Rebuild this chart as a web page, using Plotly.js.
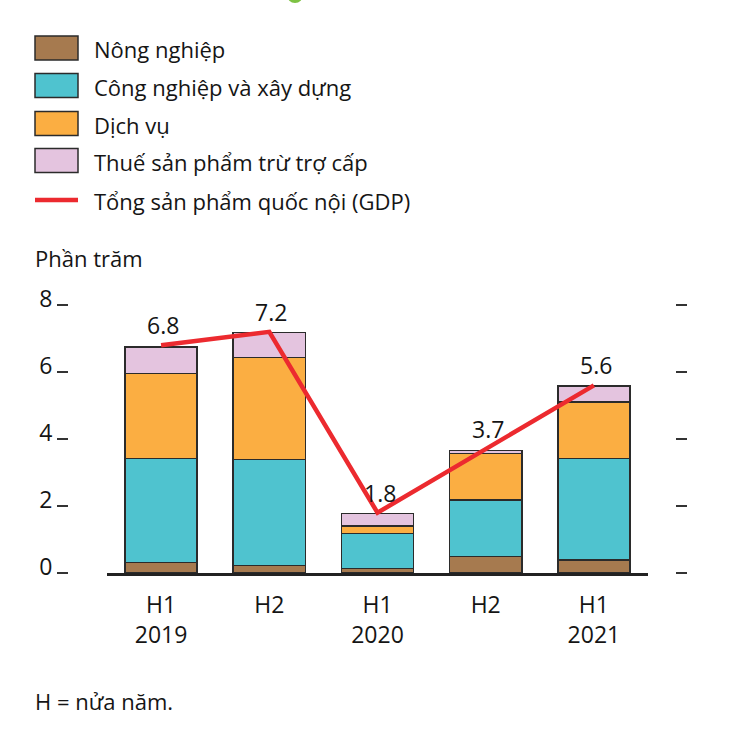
<!DOCTYPE html>
<html>
<head>
<meta charset="utf-8">
<script src="https://cdn.plot.ly/plotly-3.0.1.min.js"></script>
<style>html,body{margin:0;padding:0;background:#fff;}</style>
</head>
<body>
<div id="chart" style="width:736px;height:730px;"></div>
<script>
// ---- data ----
const periods = ['H1<br>2019', 'H2', 'H1<br>2020', 'H2', 'H1<br>2021'];
const seriesNames = ['Nông nghiệp', 'Công nghiệp và xây dựng', 'Dịch vụ', 'Thuế sản phẩm trừ trợ cấp'];
const agriculture = [0.31, 0.22, 0.13, 0.49, 0.39];
const industry = [3.11, 3.17, 1.05, 1.69, 3.03];
const services = [2.54, 3.05, 0.22, 1.39, 1.68];
const taxes = [0.78, 0.74, 0.38, 0.09, 0.48];
const gdp = [6.8, 7.2, 1.8, 3.7, 5.6];
const gdpName = 'Tổng sản phẩm quốc nội (GDP)';
const yTicks = [0, 2, 4, 6, 8];

// ---- styles ----
const colors = ['#A67A4F', '#4FC3CF', '#FBAE42', '#E4C4DF'];
const red = '#EC2A2F';
const ink = '#151515';
const font = 'Open Sans, Noto Sans, sans-serif';

const W = 736, H = 730;
const L = 68, R = 50, T = 305, B = 157;
const PW = W - L - R, PH = H - T - B;
const px = p => (p - L) / PW;
const py = p => (T + PH - p) / PH;

const xIdx = periods.map((_, i) => i);
const stacks = [agriculture, industry, services, taxes];

const traces = stacks.map((vals, k) => ({
  type: 'bar',
  x: xIdx,
  y: vals,
  name: seriesNames[k],
  marker: {color: colors[k], line: {color: '#2b2b2b', width: 1.5}},
  hoverinfo: 'skip',
  showlegend: false
}));

traces.push({
  type: 'scatter',
  mode: 'lines',
  x: xIdx,
  y: gdp,
  name: gdpName,
  line: {color: red, width: 4.5},
  cliponaxis: false,
  hoverinfo: 'skip',
  showlegend: false
});

// invisible helper so the right-hand tick axis is drawn
traces.push({
  type: 'scatter', mode: 'markers', x: xIdx, y: gdp, yaxis: 'y2',
  marker: {opacity: 0}, hoverinfo: 'skip', showlegend: false
});

// ---- manual legend ----
const shapes = [];
const annotations = [];
const rowY = [48, 85.5, 123.5, 160.5, 200];
seriesNames.forEach((n, k) => {
  shapes.push({
    type: 'rect', xref: 'paper', yref: 'paper',
    x0: px(35), x1: px(78), y0: py(rowY[k] - 12), y1: py(rowY[k] + 12),
    fillcolor: colors[k], line: {color: '#2b2b2b', width: 1.5}
  });
  annotations.push({
    xref: 'paper', yref: 'paper', x: px(92), y: py(rowY[k] + 1),
    xanchor: 'left', yanchor: 'middle', showarrow: false,
    text: n, font: {family: font, size: 22, color: ink}
  });
});
shapes.push({
  type: 'line', xref: 'paper', yref: 'paper',
  x0: px(35), x1: px(78), y0: py(rowY[4]), y1: py(rowY[4]),
  line: {color: red, width: 4.5}
});
annotations.push({
  xref: 'paper', yref: 'paper', x: px(92), y: py(rowY[4] + 1),
  xanchor: 'left', yanchor: 'middle', showarrow: false,
  text: gdpName, font: {family: font, size: 22, color: ink}
});
// GDP value labels
gdp.forEach((v, i) => {
  annotations.push({
    xref: 'x', yref: 'y', x: xIdx[i], y: v,
    xanchor: 'center', yanchor: 'middle', yshift: 20, xshift: 2, showarrow: false,
    text: v.toFixed(1), font: {family: font, size: 23, color: ink}
  });
});
// green dot peeking at top
shapes.push({
  type: 'circle', xref: 'paper', yref: 'paper',
  x0: px(287), x1: px(303), y0: py(3), y1: py(-13),
  fillcolor: '#7DC243', line: {width: 0}
});
annotations.push({
  xref: 'paper', yref: 'paper', x: px(33), y: py(258),
  xanchor: 'left', yanchor: 'middle', showarrow: false,
  text: 'Phần trăm', font: {family: font, size: 22, color: ink}
});
annotations.push({
  xref: 'paper', yref: 'paper', x: px(33), y: py(701),
  xanchor: 'left', yanchor: 'middle', showarrow: false,
  text: 'H = nửa năm.', font: {family: font, size: 22, color: ink}
});

const layout = {
  width: W, height: H,
  margin: {l: L, r: R, t: T, b: B, pad: 0},
  paper_bgcolor: '#fff', plot_bgcolor: '#fff',
  barmode: 'stack',
  bargap: 1 / 3,
  showlegend: false,
  font: {family: font, color: ink},
  xaxis: {
    domain: [px(107), px(648)],
    range: [-0.5, 4.5],
    tickvals: xIdx, ticktext: periods,
    ticks: '', showgrid: false, zeroline: false,
    showline: true, linecolor: '#222', linewidth: 2.5,
    ticklabelstandoff: 10,
    tickfont: {family: font, size: 23, color: ink},
    fixedrange: true
  },
  yaxis: {
    anchor: 'free', position: 0,
    range: [0, 8], tickvals: yTicks,
    ticks: 'outside', ticklen: 11, tickwidth: 2, tickcolor: '#333',
    ticklabelshift: -6,
    showgrid: false, zeroline: false, showline: false,
    tickfont: {family: font, size: 23, color: ink},
    fixedrange: true
  },
  yaxis2: {
    overlaying: 'y', anchor: 'free', position: px(675), side: 'right',
    range: [0, 8], tickvals: yTicks,
    ticks: 'outside', ticklen: 11, tickwidth: 2, tickcolor: '#333',
    showticklabels: false, showgrid: false, zeroline: false, showline: false,
    fixedrange: true
  },
  shapes: shapes,
  annotations: annotations
};

Plotly.newPlot('chart', traces, layout, {displayModeBar: false, staticPlot: true});
</script>
</body>
</html>
